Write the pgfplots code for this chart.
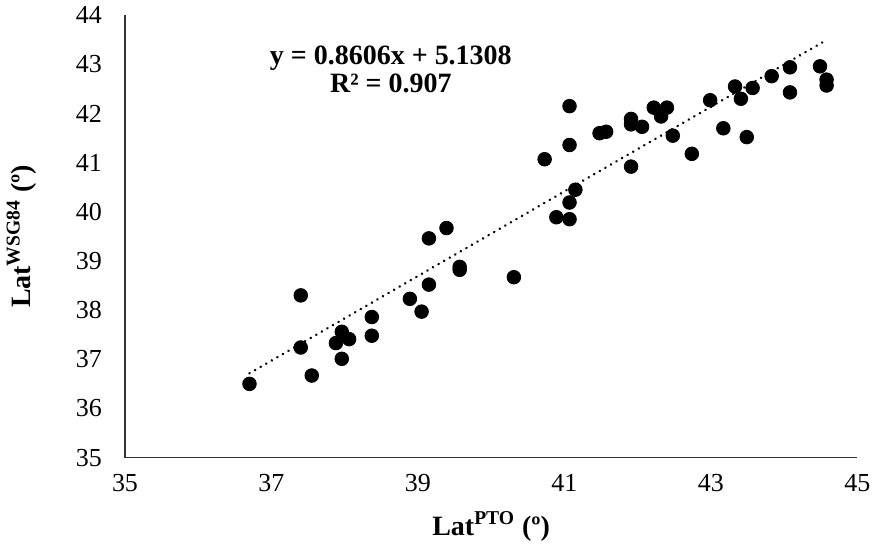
\documentclass[border=0pt]{standalone}
\usepackage{fontspec}
\setmainfont{Liberation Serif}
\usepackage{pgfplots}
\pgfplotsset{compat=1.18}

\begin{document}
\begin{tikzpicture}
\begin{axis}[
    width=365bp, height=220.5bp,
    scale only axis,
    xmin=35, xmax=45,
    ymin=35, ymax=44,
    xtick={35,37,...,45},
    ytick={35,36,...,44},
    axis lines*=left,
    axis line style={line width=0.8bp, black!80},
    major tick length=0pt,
    /pgf/number format/assume math mode=true,
    tick label style={font=\fontsize{13}{15}\selectfont},
    xticklabel style={yshift=-5bp},
    yticklabel style={xshift=-8bp},
    xlabel={\textbf{Lat\textsuperscript{PTO} (º)}},
    ylabel={\textbf{Lat\textsuperscript{WSG84} (º)}},
    label style={font=\fontsize{14}{16}\selectfont},
    xlabel style={yshift=-3bp},
    ylabel style={yshift=13bp},
    clip=false,
]

% trendline y = 0.8606x + 5.1308, drawn between its end points
\addplot[black, line width=1.3bp, dash pattern=on 0.1bp off 3.1bp, line cap=round]
    coordinates {(36.70,36.715) (44.52,43.445)};

\addplot[only marks, mark=*, mark size=3.4bp, black] coordinates {
    (36.70,36.50) (37.40,38.30) (37.40,37.24) (37.55,36.67)
    (37.96,37.56) (37.88,37.33) (38.06,37.41) (37.96,37.01)
    (38.37,37.86) (38.37,37.48) (38.89,38.23) (39.05,37.97)
    (39.15,38.52) (39.57,38.88) (39.57,38.82) (40.31,38.67)
    (39.15,39.46) (39.39,39.67)
    (40.73,41.07) (41.07,42.15) (41.07,41.36) (41.15,40.45)
    (41.07,40.19) (40.89,39.89) (41.07,39.85) (41.48,41.60)
    (41.57,41.63) (41.91,41.89) (41.91,41.78) (42.06,41.73)
    (41.91,40.92) (42.22,42.12) (42.40,42.12) (42.32,41.94)
    (42.48,41.55) (42.74,41.18) (42.99,42.27) (43.17,41.70)
    (43.33,42.55) (43.41,42.30) (43.57,42.52) (43.49,41.52)
    (43.83,42.76) (44.08,42.94) (44.08,42.43) (44.49,42.96)
    (44.58,42.69) (44.58,42.57)
};

\node[align=center, font=\bfseries\fontsize{14}{14}\selectfont]
    at (axis cs:38.63,42.9) {y = 0.8606x + 5.1308\\R² = 0.907};

\end{axis}
\end{tikzpicture}
\end{document}
